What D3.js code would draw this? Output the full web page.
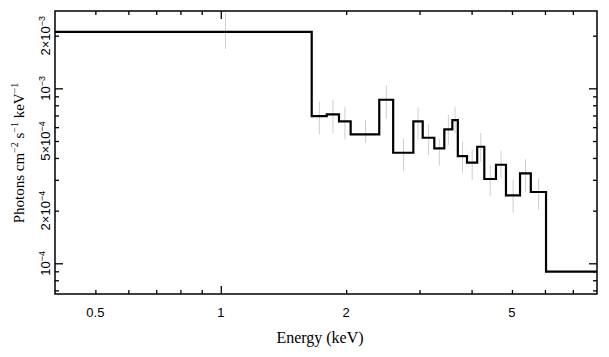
<!DOCTYPE html>
<html><head><meta charset="utf-8">
<script src="https://cdn.jsdelivr.net/npm/d3@7"></script>
<style>body{margin:0;background:#fff}</style>
</head><body>
<svg id="c" width="609" height="357"></svg>
<script>
// ---- data ----
const binEdges = [0.4,1.653,1.796,1.922,2.050,2.401,2.593,2.899,3.053,3.255,3.440,3.596,3.707,3.900,4.126,4.291,4.577,4.837,5.228,5.549,6.036,8.0];
const binValues = [2.105e-3,6.945e-4,7.102e-4,6.477e-4,5.459e-4,8.606e-4,4.285e-4,6.477e-4,5.220e-4,4.54e-4,5.832e-4,6.589e-4,4.103e-4,3.757e-4,4.637e-4,3.032e-4,3.659e-4,2.446e-4,3.267e-4,2.555e-4,8.954e-5];
const errEnergy = [1.0265,1.7245,1.859,1.986,2.2255,2.497,2.746,2.976,3.154,3.3475,3.518,3.6515,3.8035,4.013,4.2085,4.434,4.707,5.0325,5.3885,5.7925];
const errHigh = [2.693e-3,8.385e-4,8.573e-4,7.847e-4,6.590e-4,1.044e-3,5.179e-4,7.785e-4,6.252e-4,5.132e-4,7.036e-4,7.847e-4,4.952e-4,4.498e-4,5.554e-4,3.645e-4,4.399e-4,2.992e-4,3.929e-4,3.060e-4];
const errLow  = [1.677e-3,5.481e-4,5.531e-4,5.111e-4,4.887e-4,6.738e-4,3.382e-4,5.111e-4,4.158e-4,3.611e-4,4.742e-4,5.531e-4,3.269e-4,2.992e-4,3.806e-4,2.424e-4,3.060e-4,1.945e-4,2.565e-4,2.016e-4];

const xDomain = [0.4, 8.0];
const yDomain = [6.676e-5, 2.767e-3];
const xMajorTicks = [1];
const xMinorTicks = [0.5,0.6,0.7,0.8,0.9,2,3,4,5,6,7];
const xTickLabels = [0.5, 1, 2, 5];
const yMajorTicks = [1e-4, 1e-3];
const yMinorTicks = [7e-5,8e-5,9e-5,2e-4,3e-4,4e-4,5e-4,6e-4,7e-4,8e-4,9e-4,2e-3];
const yTickLabels = [
  {v:2e-3, m:"2×10", e:"−3"},
  {v:1e-3, m:"10", e:"−3"},
  {v:5e-4, m:"5×10", e:"−4"},
  {v:2e-4, m:"2×10", e:"−4"},
  {v:1e-4, m:"10", e:"−4"}
];

// ---- layout ----
const L = 55, R = 597, T = 11, B = 294;
const svg = d3.select("#c");
const x = d3.scaleLog().domain(xDomain).range([L, R]);
const y = d3.scaleLog().domain(yDomain).range([B, T]);
const SANS = "'Liberation Sans', Arial, Helvetica, sans-serif";
const SERIF = "'Liberation Serif', 'Times New Roman', serif";

// error bars
svg.append("g").selectAll("line").data(errEnergy).join("line")
  .attr("x1", d => x(d)).attr("x2", d => x(d))
  .attr("y1", (d,i) => y(errHigh[i])).attr("y2", (d,i) => y(errLow[i]))
  .attr("stroke", "#cfcfcf").attr("stroke-width", 1);

// step histogram
const pts = binValues.map((v,i) => [binEdges[i], v]);
pts.push([binEdges[binEdges.length-1], binValues[binValues.length-1]]);
svg.append("path")
  .attr("d", d3.line().x(d => x(d[0])).y(d => y(d[1])).curve(d3.curveStepAfter)(pts))
  .attr("fill", "none").attr("stroke", "#000").attr("stroke-width", 2.2)
  .attr("stroke-linejoin", "miter");

// axes (inward ticks on all sides)
function styleAxis(g){
  g.select(".domain").remove();
  g.selectAll(".tick line").attr("stroke", "#000").attr("stroke-width", 1.3);
  g.selectAll(".tick text").remove();
}
const axes = [
  [d3.axisBottom(x), `translate(0,${B})`, -1],
  [d3.axisTop(x), `translate(0,${T})`, -1],
];
[[d3.axisBottom, B],[d3.axisTop, T]].forEach(([fn, pos]) => {
  svg.append("g").attr("transform", `translate(0,${pos})`)
    .call(fn(x).tickValues(xMinorTicks).tickSizeInner(-4).tickSizeOuter(0).tickFormat(""))
    .call(styleAxis);
  svg.append("g").attr("transform", `translate(0,${pos})`)
    .call(fn(x).tickValues(xMajorTicks).tickSizeInner(-8).tickSizeOuter(0).tickFormat(""))
    .call(styleAxis);
});
[[d3.axisLeft, L],[d3.axisRight, R]].forEach(([fn, pos]) => {
  svg.append("g").attr("transform", `translate(${pos},0)`)
    .call(fn(y).tickValues(yMinorTicks).tickSizeInner(-4).tickSizeOuter(0).tickFormat(""))
    .call(styleAxis);
  svg.append("g").attr("transform", `translate(${pos},0)`)
    .call(fn(y).tickValues(yMajorTicks).tickSizeInner(-8).tickSizeOuter(0).tickFormat(""))
    .call(styleAxis);
});

// frame
svg.append("rect").attr("x", L).attr("y", T).attr("width", R-L).attr("height", B-T)
  .attr("fill", "none").attr("stroke", "#000").attr("stroke-width", 1.5);

// x tick labels
svg.append("g").selectAll("text").data(xTickLabels).join("text")
  .attr("x", d => x(d)).attr("y", 316.5)
  .attr("text-anchor", "middle")
  .attr("font-family", SANS).attr("font-size", 13)
  .text(d => d);

// y tick labels (rotated)
const yl = svg.append("g").selectAll("text").data(yTickLabels).join("text")
  .attr("transform", d => `translate(50,${y(d.v)}) rotate(-90)`)
  .attr("text-anchor", "middle")
  .attr("font-family", SANS).attr("font-size", 13);
yl.append("tspan").text(d => d.m);
yl.append("tspan").attr("dy", -5).attr("font-size", 9).text(d => d.e);

// axis titles
svg.append("text").attr("x", 320).attr("y", 343)
  .attr("text-anchor", "middle").attr("font-family", SERIF).attr("font-size", 16)
  .text("Energy (keV)");

const yt = svg.append("text")
  .attr("transform", `translate(24,153) rotate(-90)`)
  .attr("text-anchor", "middle").attr("font-family", SERIF).attr("font-size", 15);
yt.append("tspan").text("Photons cm");
yt.append("tspan").attr("dy", -6).attr("font-size", 10).text("−2");
yt.append("tspan").attr("dy", 6).text(" s");
yt.append("tspan").attr("dy", -6).attr("font-size", 10).text("−1");
yt.append("tspan").attr("dy", 6).text(" keV");
yt.append("tspan").attr("dy", -6).attr("font-size", 10).text("−1");
</script>
</body></html>
